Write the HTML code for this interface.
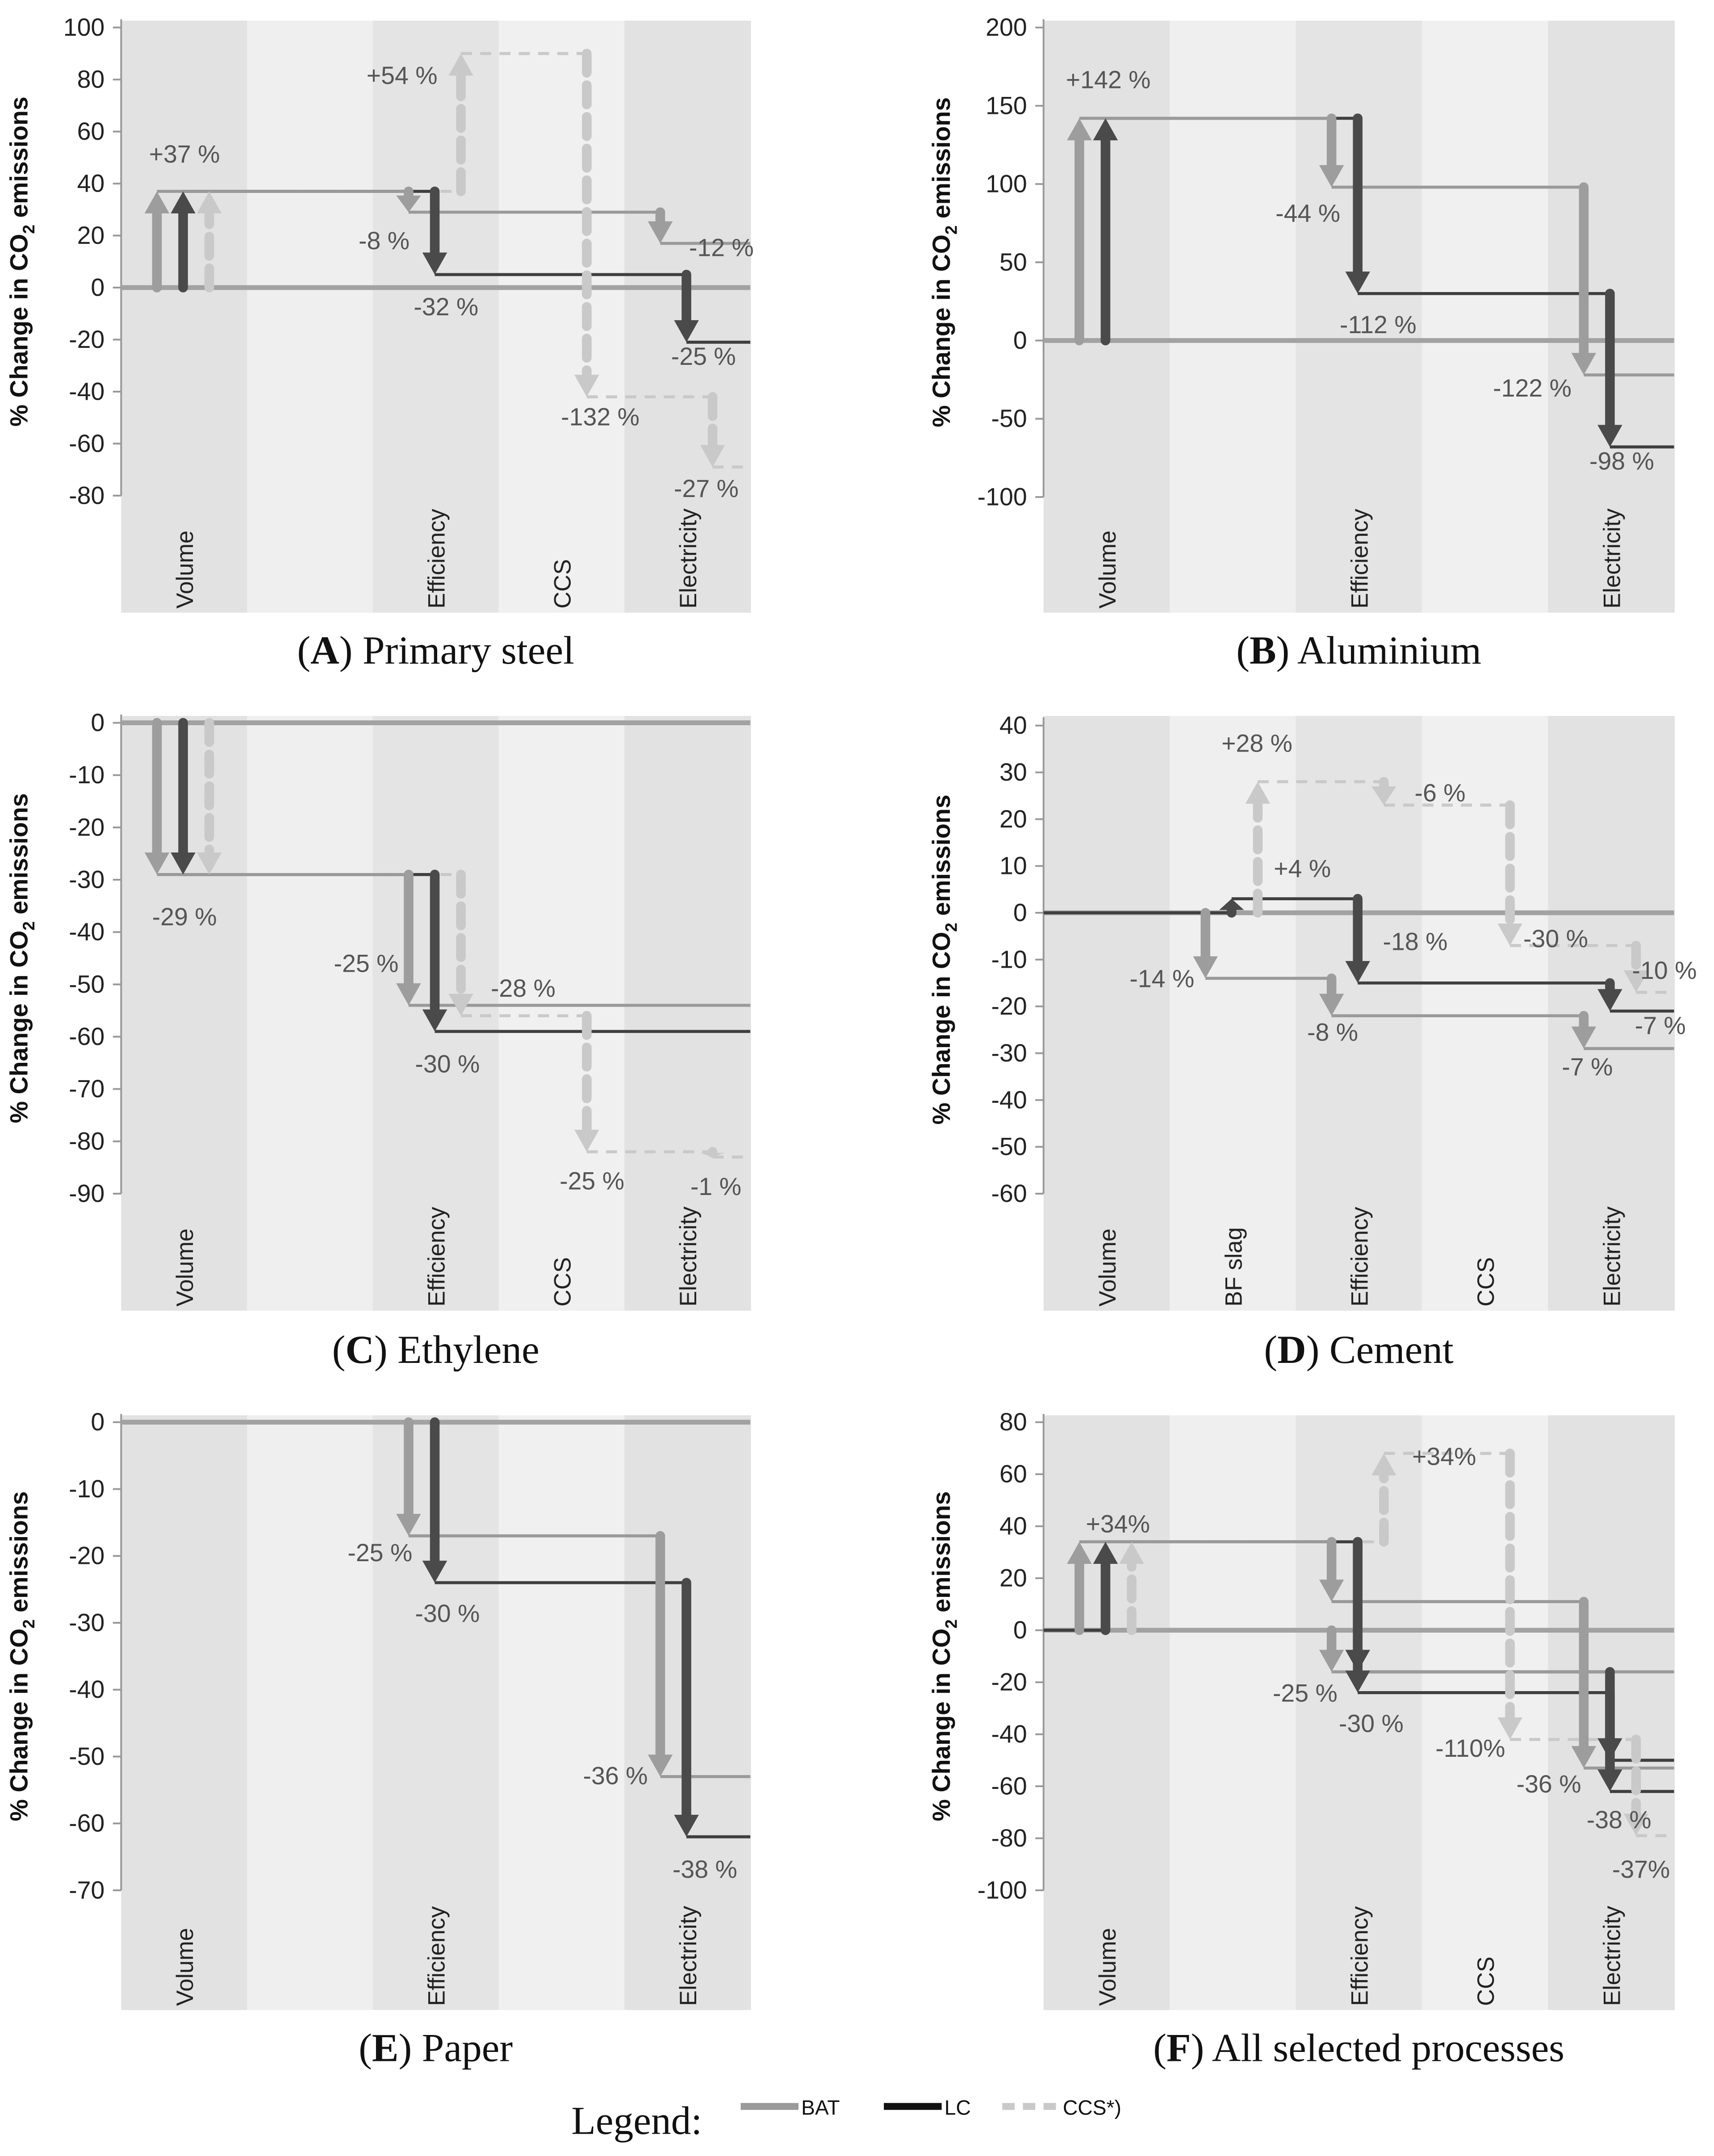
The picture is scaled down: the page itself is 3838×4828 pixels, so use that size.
<!DOCTYPE html>
<html><head><meta charset="utf-8"><style>
html,body{margin:0;padding:0;background:#fff;}
svg{display:block;}
</style></head><body>
<svg id="fig" width="3838" height="4828" viewBox="0 0 1245 1566" preserveAspectRatio="none" xmlns="http://www.w3.org/2000/svg">
<g id="root"></g>
<g>
<text x="415" y="1550" font-family="Liberation Serif, serif" font-size="29" fill="#111">Legend:</text>
<line x1="538" y1="1530" x2="580" y2="1530" stroke="#9a9a9a" stroke-width="5"/>
<text x="582" y="1536" font-family="Liberation Sans, sans-serif" font-size="15" fill="#111">BAT</text>
<line x1="642" y1="1530" x2="684" y2="1530" stroke="#111" stroke-width="5"/>
<text x="686" y="1536" font-family="Liberation Sans, sans-serif" font-size="15" fill="#111">LC</text>
<line x1="728" y1="1530" x2="770" y2="1530" stroke="#c9c9c9" stroke-width="5" stroke-dasharray="9,6"/>
<text x="772" y="1536" font-family="Liberation Sans, sans-serif" font-size="15" fill="#111">CCS*)</text>
</g>
</svg>
<script>
// ---- data (levels: start, after each of 5 categories; null = series absent) ----
const A_cats=["Volume","","Efficiency","CCS","Electricity"];
const A_ticks=[100,80,60,40,20,0,-20,-40,-60,-80];
const A_BAT=[0,37,37,29,29,17];
const A_LC=[0,37,37,5,5,-21];
const A_CCS=[0,37,37,90,-42,-69];
const A_labels=["+37 %","-8 %","-12 %","-32 %","-25 %","+54 %","-132 %","-27 %"];

const B_cats=["Volume","","Efficiency","","Electricity"];
const B_ticks=[200,150,100,50,0,-50,-100];
const B_BAT=[0,142,142,98,98,-22];
const B_LC=[0,142,142,30,30,-68];
const B_labels=["+142 %","-44 %","-112 %","-122 %","-98 %"];

const C_cats=["Volume","","Efficiency","CCS","Electricity"];
const C_ticks=[0,-10,-20,-30,-40,-50,-60,-70,-80,-90];
const C_BAT=[0,-29,-29,-54,-54,-54];
const C_LC=[0,-29,-29,-59,-59,-59];
const C_CCS=[0,-29,-29,-56,-82,-83];
const C_labels=["-29 %","-25 %","-30 %","-28 %","-25 %","-1 %"];

const D_cats=["Volume","BF slag","Efficiency","CCS","Electricity"];
const D_ticks=[40,30,20,10,0,-10,-20,-30,-40,-50,-60];
const D_BAT=[0,0,-14,-22,-22,-29];
const D_LC=[0,0,3,-15,-15,-21];
const D_CCS=[0,0,28,23,-7,-17];
const D_labels=["-14 %","+4 %","+28 %","-8 %","-18 %","-6 %","-30 %","-7 %","-7 %","-10 %"];

const E_cats=["Volume","","Efficiency","","Electricity"];
const E_ticks=[0,-10,-20,-30,-40,-50,-60,-70];
const E_BAT=[0,0,0,-17,-17,-53];
const E_LC=[0,0,0,-24,-24,-62];
const E_labels=["-25 %","-30 %","-36 %","-38 %"];

const F_cats=["Volume","","Efficiency","CCS","Electricity"];
const F_ticks=[80,60,40,20,0,-20,-40,-60,-80,-100];
const F_BAT=[0,34,34,11,11,-53];
const F_BAT2=[null,null,0,-16,-16,-16];
const F_LC=[0,34,34,-16,-16,-50];
const F_LC2=[null,null,34,-24,-24,-62];
const F_CCS=[0,34,34,68,-42,-79];
const F_labels=["+34%","+34%","-25 %","-30 %","-110%","-36 %","-38 %","-37%"];

// ---- layout ----
const NS="http://www.w3.org/2000/svg";
const root=document.getElementById('root');
function el(tag,attrs,parent){const e=document.createElementNS(NS,tag);for(const k in attrs)e.setAttribute(k,attrs[k]);(parent||root).appendChild(e);return e;}
const STY={BAT:{c:"#9d9d9d",lc:"#9a9a9a",off:26,dash:null,z:2},LC:{c:"#4a4a4a",lc:"#3f3f3f",off:45,dash:null,z:1},CCS:{c:"#c9c9c9",lc:"#c9c9c9",off:64,dash:"14,9",z:0}};

function panel(p){
  const g=el('g',{});
  
  
  const bw=(p.xR-p.xL)/5;
  const shades=["#e2e2e2","#efefef","#e4e4e4","#f0f0f0","#e2e2e2"];
  for(let i=0;i<5;i++){
    const r=el('rect',{x:p.xL+i*bw,y:p.bT,width:bw+0.5,height:p.bB-p.bT,fill:shades[i]},g);
    
    
    if(p.cats[i]){
      const cx=p.xL+i*bw+bw/2+2, cy=p.bB-3;
      const t=el('text',{x:cx,y:cy,transform:`rotate(-90 ${cx} ${cy})`,'font-family':'Liberation Sans, sans-serif','font-size':17,fill:'#222','dominant-baseline':'middle'},g);
      t.textContent=p.cats[i];
      
      
    }
  }
  const vmax=p.ticks[0], vmin=p.ticks[p.ticks.length-1];
  const Y=v=>p.yT+(vmax-v)*(p.yB-p.yT)/(vmax-vmin);
  const ax=(i,s)=>p.xL+i*bw+STY[s].off;
  const axl=el('line',{x1:p.xL,y1:p.yT-6,x2:p.xL,y2:p.yB,stroke:'#999','stroke-width':1.3},g);
  
  
  p.ticks.forEach(v=>{
    el('line',{x1:p.xL-6,y1:Y(v),x2:p.xL,y2:Y(v),stroke:'#999','stroke-width':1.3},g);
    const t=el('text',{x:p.xL-12,y:Y(v)+6,'text-anchor':'end','font-family':'Liberation Sans, sans-serif','font-size':18,fill:'#222'},g);
    t.textContent=v;
    
    
  });
  const tx=p.xL-68, ty=(p.yT+p.yB)/2;
  const yt=el('text',{x:tx,y:ty,transform:`rotate(-90 ${tx} ${ty})`,'text-anchor':'middle','font-family':'Liberation Sans, sans-serif','font-size':18,'font-weight':'bold',fill:'#111'},g);
  yt.innerHTML='% Change in CO<tspan font-size="12" dy="5">2</tspan><tspan dy="-5"> emissions</tspan>';
  
  
  const zl=el('line',{x1:p.xL,y1:Y(0),x2:p.xR,y2:Y(0),stroke:'#a2a2a2','stroke-width':3.5},g);
  
  
  const lineG=el('g',{},g), arrowG=el('g',{},g);
  const sorted=p.series.slice().sort((a,b)=>STY[a[0]].z-STY[b[0]].z);
  // pass 1: level lines
  sorted.forEach(([s,lv,startLine])=>{
    const st=STY[s];
    let lastX=null,lastV=null;
    const first=lv.findIndex(v=>v!==null);
    for(let i=first;i<5;i++){
      if(lv[i+1]!==lv[i]){
        const x=ax(i,s);
        if(lastX!==null){
          const h=el('line',{x1:lastX,y1:Y(lastV),x2:x,y2:Y(lastV),stroke:st.lc,'stroke-width':2.2},lineG);
          if(st.dash)h.setAttribute('stroke-dasharray','8,6');
          
          
        } else if(startLine){
          const h=el('line',{x1:p.xL,y1:Y(lv[i]),x2:x,y2:Y(lv[i]),stroke:st.lc,'stroke-width':2.2},lineG);
          
          
        }
        lastX=x;lastV=lv[i+1];
      }
    }
    if(lastX!==null){
      const h=el('line',{x1:lastX,y1:Y(lastV),x2:p.xR,y2:Y(lastV),stroke:st.lc,'stroke-width':2.2},lineG);
      if(st.dash)h.setAttribute('stroke-dasharray','8,6');
      
      
    }
  });
  // pass 2: arrows
  p.series.forEach(([s,lv])=>{
    const st=STY[s];
    const first=lv.findIndex(v=>v!==null);
    for(let i=first;i<5;i++){
      if(lv[i+1]!==lv[i]){
        const x=ax(i,s);
        const y0=Y(lv[i]), y1=Y(lv[i+1]); const dir=y1>y0?1:-1;
        const hl=Math.min(16,Math.abs(y1-y0)*0.8);
        const shaft=el('line',{x1:x,y1:y0,x2:x,y2:y1-dir*hl,stroke:st.c,'stroke-width':7,'stroke-linecap':'round'},arrowG);
        if(st.dash)shaft.setAttribute('stroke-dasharray',st.dash);
        
        
        const hd=el('polygon',{points:`${x-9},${y1-dir*hl} ${x+9},${y1-dir*hl} ${x},${y1}`,fill:st.c},arrowG);
        
        
      }
    }
  });
  p.labels.forEach((txt,k)=>{
    const [x,y]=p.lpos[k];
    const t=el('text',{x:x,y:y,'text-anchor':'middle','font-family':'Liberation Sans, sans-serif','font-size':18,fill:'#555'},g);
    t.textContent=txt;
    
    
  });
  const tt=el('text',{x:(p.xL+p.xR)/2,y:p.titleY,'text-anchor':'middle','font-family':'Liberation Serif, serif','font-size':29,fill:'#111'},g);
  tt.innerHTML=`(<tspan font-weight="bold">${p.letter}</tspan>) ${p.title}`;
  
  
}

panel({name:'panel-a-primary-steel',letter:'A',title:'Primary steel',xL:88,xR:545,bT:15,bB:445,yT:20,yB:360,titleY:482,cats:A_cats,ticks:A_ticks,
 series:[['BAT',A_BAT],['LC',A_LC],['CCS',A_CCS]],labels:A_labels,
 lpos:[[134,118],[279,181],[524,186],[324,229],[511,265],[292,61],[436,309],[513,361]]});
panel({name:'panel-b-aluminium',letter:'B',title:'Aluminium',xL:758,xR:1216,bT:15,bB:445,yT:20,yB:361,titleY:482,cats:B_cats,ticks:B_ticks,
 series:[['BAT',B_BAT],['LC',B_LC]],labels:B_labels,
 lpos:[[805,64],[950,161],[1001,242],[1113,288],[1178,341]]});
panel({name:'panel-c-ethylene',letter:'C',title:'Ethylene',xL:88,xR:545,bT:520,bB:952,yT:525,yB:867,titleY:990,cats:C_cats,ticks:C_ticks,
 series:[['BAT',C_BAT],['LC',C_LC],['CCS',C_CCS]],labels:C_labels,
 lpos:[[134,672],[266,706],[325,779],[380,724],[430,864],[520,868]]});
panel({name:'panel-d-cement',letter:'D',title:'Cement',xL:758,xR:1216,bT:520,bB:952,yT:527,yB:867,titleY:990,cats:D_cats,ticks:D_ticks,
 series:[['BAT',D_BAT],['LC',D_LC,true],['CCS',D_CCS]],labels:D_labels,
 lpos:[[844,717],[946,637],[913,546],[968,756],[1028,690],[1046,582],[1130,688],[1153,781],[1206,751],[1209,711]]});
panel({name:'panel-e-paper',letter:'E',title:'Paper',xL:88,xR:545,bT:1028,bB:1460,yT:1033,yB:1373,titleY:1497,cats:E_cats,ticks:E_ticks,
 series:[['BAT',E_BAT],['LC',E_LC]],labels:E_labels,
 lpos:[[276,1134],[325,1178],[447,1296],[512,1364]]});
panel({name:'panel-f-all-processes',letter:'F',title:'All selected processes',xL:758,xR:1216,bT:1028,bB:1460,yT:1033,yB:1373,titleY:1497,cats:F_cats,ticks:F_ticks,
 series:[['BAT',F_BAT],['BAT',F_BAT2],['LC',F_LC,true],['LC',F_LC2],['CCS',F_CCS]],labels:F_labels,
 lpos:[[812,1113],[1049,1064],[948,1236],[996,1258],[1068,1276],[1125,1302],[1176,1328],[1192,1364]]});
</script>
</body></html>
